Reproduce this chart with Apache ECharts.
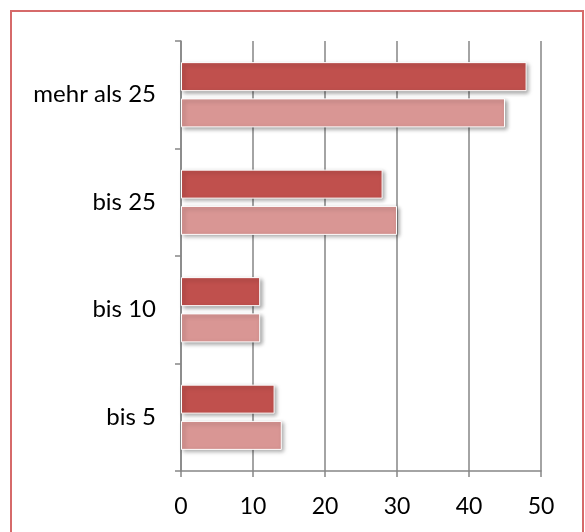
<!DOCTYPE html>
<html>
<head>
<meta charset="utf-8">
<script src="https://cdn.jsdelivr.net/npm/echarts@6/dist/echarts.min.js"></script>
<style>
  html, body { margin: 0; padding: 0; background: #fff; }
  #chart { width: 585px; height: 532px; }
</style>
</head>
<body>
<div id="chart"></div>
<script>
// Kategorien von unten nach oben (ECharts zeichnet die erste Kategorie unten)
var categories = ['bis 5', 'bis 10', 'bis 25', 'mehr als 25'];
var seriesDark = [13, 11, 28, 48];
var seriesLight = [14, 11, 30, 45];
var xTicks = [0, 10, 20, 30, 40, 50];

var chart = echarts.init(document.getElementById('chart'));

var barStyle = function (color) {
    return {
        color: color,
        borderColor: '#ffffff',
        borderWidth: 1,
        shadowBlur: 4,
        shadowOffsetX: 2,
        shadowOffsetY: 2,
        shadowColor: 'rgba(0,0,0,0.35)'
    };
};

chart.setOption({
    animation: false,
    textStyle: { fontFamily: 'Lato' },
    graphic: [{
        type: 'rect',
        shape: { x: 11, y: 11, width: 572, height: 540 },
        style: { fill: 'none', stroke: '#d66a6a', lineWidth: 2 }
    }],
    grid: { left: 181, right: 44, top: 41, bottom: 61 },
    xAxis: {
        type: 'value',
        min: xTicks[0],
        max: xTicks[xTicks.length - 1],
        interval: 10,
        axisLine: { show: true, lineStyle: { color: '#868686', width: 1.5 } },
        axisTick: { show: true, length: 6, lineStyle: { color: '#868686', width: 1.5 } },
        axisLabel: { color: '#000', fontSize: 23, margin: 24 },
        splitLine: { show: true, lineStyle: { color: '#868686', width: 1.5 } }
    },
    yAxis: {
        type: 'category',
        data: categories,
        axisLine: { show: true, lineStyle: { color: '#868686', width: 1.5 } },
        axisTick: { show: true, length: 6, lineStyle: { color: '#868686', width: 1.5 } },
        axisLabel: { color: '#000', fontSize: 24, margin: 25 }
    },
    series: [{
        name: 'A',
        type: 'bar',
        data: seriesDark,
        barWidth: 29,
        barGap: '25%',
        itemStyle: barStyle('#c0504d')
    }, {
        name: 'B',
        type: 'bar',
        data: seriesLight,
        barWidth: 29,
        barGap: '25%',
        itemStyle: barStyle('#d99694')
    }]
});
</script>
</body>
</html>
